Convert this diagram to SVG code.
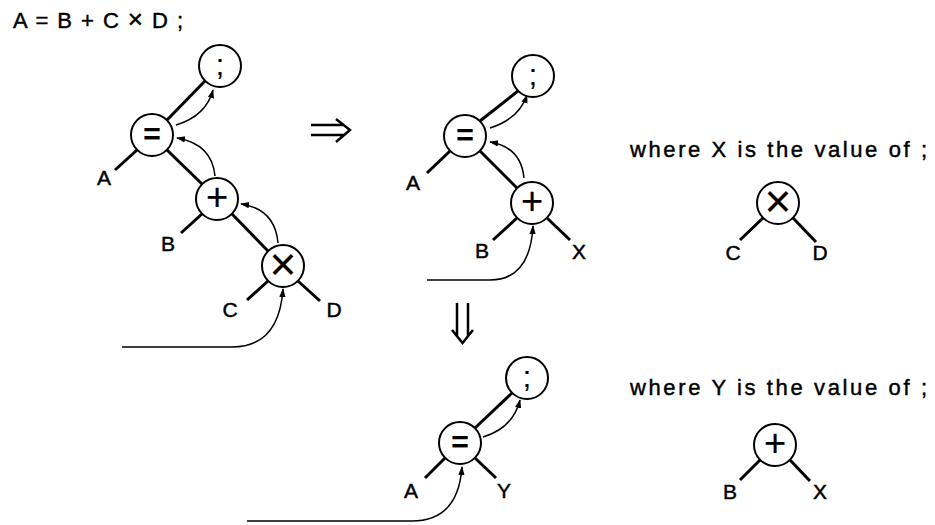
<svg xmlns="http://www.w3.org/2000/svg" width="935" height="525" viewBox="0 0 935 525">
<defs>
<marker id="ah" viewBox="0 0 10 10" refX="9" refY="5" markerWidth="9" markerHeight="9" markerUnits="userSpaceOnUse" orient="auto">
<path d="M0,1.5 L10,5 L0,8.5 Z" fill="#000"/>
</marker>
<style>
text{font-family:"Liberation Sans",Arial,sans-serif;fill:#000;stroke:#000;stroke-width:0.45}
.lbl{font-size:21px;text-anchor:middle}
.sym{text-anchor:middle;dominant-baseline:central;stroke-width:0.2}
.node circle{fill:#fff;stroke:#000;stroke-width:2}
.edge{stroke:#000;stroke-width:3;fill:none;stroke-linecap:butt}
.flow{stroke:#000;stroke-width:1.5;fill:none;marker-end:url(#ah)}
.big{stroke:#000;stroke-width:2.5;fill:none;stroke-linejoin:miter}
.cap{font-size:22px}
</style>
</defs>
<rect width="935" height="525" fill="#fff"/>

<text class="cap" x="13" y="28" textLength="170" lengthAdjust="spacing">A = B + C <tspan font-size="26">×</tspan> D ;</text>
<text class="cap" x="630" y="157" textLength="297" lengthAdjust="spacing">where X is the value of ;</text>
<text class="cap" x="630" y="395" textLength="297" lengthAdjust="spacing">where Y is the value of ;</text>

<g id="connectors">
<!-- tree 1 edges -->
<line class="edge" x1="167" y1="120" x2="205" y2="81"/>
<line class="edge" x1="167" y1="150" x2="202" y2="184"/>
<line class="edge" x1="232" y1="214" x2="268" y2="251"/>
<line class="edge" x1="137" y1="150" x2="115" y2="170"/>
<line class="edge" x1="202" y1="214" x2="181" y2="233"/>
<line class="edge" x1="268" y1="281" x2="247" y2="300"/>
<line class="edge" x1="298" y1="281" x2="320" y2="301"/>
<!-- tree 1 flow -->
<path class="flow" d="M176,125 Q206,116 213,90"/>
<path class="flow" d="M215,176 Q212,144 177,138"/>
<path class="flow" d="M278,243 Q275,209 241,204"/>
<path class="flow" d="M122,347 H232 Q279,347 283,289"/>
<!-- tree 2 edges -->
<line class="edge" x1="480" y1="121" x2="518" y2="91"/>
<line class="edge" x1="480" y1="151" x2="517" y2="188"/>
<line class="edge" x1="450" y1="151" x2="427" y2="173"/>
<line class="edge" x1="517" y1="218" x2="493" y2="240"/>
<line class="edge" x1="547" y1="218" x2="570" y2="240"/>
<!-- tree 2 flow -->
<path class="flow" d="M490,128 Q519,119 527,95"/>
<path class="flow" d="M524,178 Q521,147 490,142"/>
<path class="flow" d="M427,280 H490 Q530,280 533,226"/>
<!-- tree 3 edges -->
<line class="edge" x1="475" y1="428" x2="512" y2="393"/>
<line class="edge" x1="445" y1="458" x2="425" y2="478"/>
<line class="edge" x1="475" y1="458" x2="496" y2="478"/>
<!-- tree 3 flow -->
<path class="flow" d="M483,437 Q513,428 520,400"/>
<path class="flow" d="M247,521 H412 Q458,521 462,467"/>
<!-- side trees -->
<line class="edge" x1="763" y1="218" x2="740" y2="240"/>
<line class="edge" x1="793" y1="218" x2="816" y2="242"/>
<line class="edge" x1="760" y1="460" x2="740" y2="480"/>
<line class="edge" x1="790" y1="460" x2="810" y2="481"/>
<!-- transformation arrows -->
<path class="big" d="M311,125 H344 M311,135 H344 M336,119 L350,130 L336,142"/>
<path class="big" d="M457,303 V336 M468,303 V336 M452,330 L462.5,343 L473,330"/>
</g>

<!-- tree 1 -->
<g id="t1-semi" class="node"><circle cx="220" cy="66" r="21"/><text class="sym" x="220" y="64" font-size="30">;</text></g>
<g id="t1-assign" class="node"><circle cx="152" cy="135" r="21"/><text class="sym" x="152" y="133" font-size="30" font-weight="bold">=</text></g>
<g id="t1-plus" class="node"><circle cx="217" cy="199" r="21"/><text class="sym" x="217" y="197" font-size="38">+</text></g>
<g id="t1-times" class="node"><circle cx="283" cy="266" r="21"/><text class="sym" x="283" y="264" font-size="46">×</text></g>
<g id="t1-A"><text class="lbl" x="104" y="185">A</text></g>
<g id="t1-B"><text class="lbl" x="168" y="251">B</text></g>
<g id="t1-C"><text class="lbl" x="230" y="317">C</text></g>
<g id="t1-D"><text class="lbl" x="334" y="317">D</text></g>

<!-- tree 2 -->
<g id="t2-semi" class="node"><circle cx="533" cy="76" r="21"/><text class="sym" x="533" y="74" font-size="30">;</text></g>
<g id="t2-assign" class="node"><circle cx="465" cy="136" r="21"/><text class="sym" x="465" y="134" font-size="30" font-weight="bold">=</text></g>
<g id="t2-plus" class="node"><circle cx="532" cy="203" r="21"/><text class="sym" x="532" y="201" font-size="38">+</text></g>
<g id="t2-A"><text class="lbl" x="413" y="190">A</text></g>
<g id="t2-B"><text class="lbl" x="482" y="258">B</text></g>
<g id="t2-X"><text class="lbl" x="579" y="259">X</text></g>

<!-- tree 3 -->
<g id="t3-semi" class="node"><circle cx="527" cy="378" r="21"/><text class="sym" x="527" y="376" font-size="30">;</text></g>
<g id="t3-assign" class="node"><circle cx="460" cy="443" r="21"/><text class="sym" x="460" y="441" font-size="30" font-weight="bold">=</text></g>
<g id="t3-A"><text class="lbl" x="411" y="498">A</text></g>
<g id="t3-Y"><text class="lbl" x="504" y="498">Y</text></g>

<!-- X subtree -->
<g id="x-times" class="node"><circle cx="778" cy="203" r="21"/><text class="sym" x="778" y="201" font-size="46">×</text></g>
<g id="x-C"><text class="lbl" x="733" y="260">C</text></g>
<g id="x-D"><text class="lbl" x="820" y="260">D</text></g>

<!-- Y subtree -->
<g id="y-plus" class="node"><circle cx="775" cy="445" r="21"/><text class="sym" x="775" y="443" font-size="38">+</text></g>
<g id="y-B"><text class="lbl" x="730" y="499">B</text></g>
<g id="y-X"><text class="lbl" x="820" y="499">X</text></g>
</svg>
